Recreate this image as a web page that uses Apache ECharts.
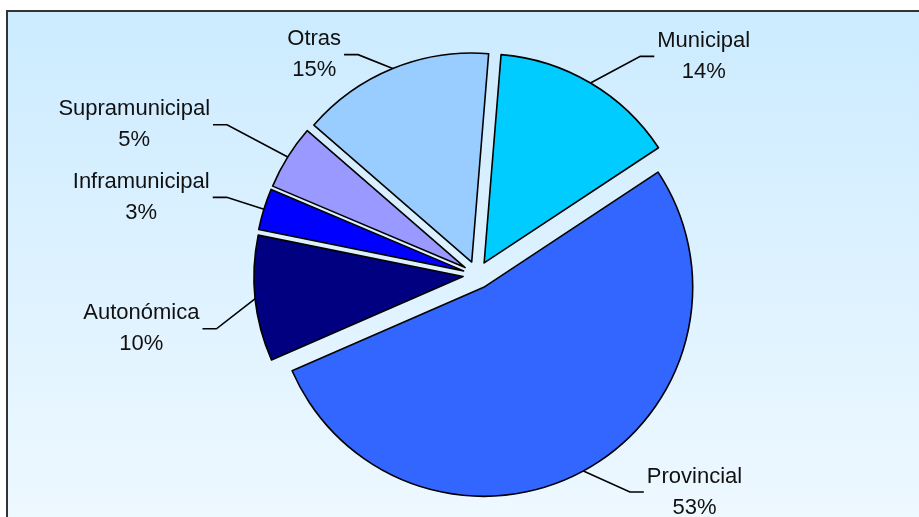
<!DOCTYPE html>
<html>
<head>
<meta charset="utf-8">
<script src="https://cdn.jsdelivr.net/npm/echarts@6/dist/echarts.min.js"></script>
<style>
html,body{margin:0;padding:0;background:#fff;}
#main{width:919px;height:517px;}
</style>
</head>
<body>
<div id="main"></div>
<script>
// Data (shares in %)
const categories = ['Municipal', 'Provincial', 'Autonómica', 'Inframunicipal', 'Supramunicipal', 'Otras'];
const values = [14.4, 52.7, 9.7, 3.2, 5.0, 14.9];
const colors = ['#00CCFF', '#3366FF', '#000080', '#0000FF', '#9999FF', '#99CCFF'];

// label-line styling per slice (lengths only, no coordinates)
const lineLen = [31, 24, 40, 40, 61, 15];
const lineLen2 = [48, 49, 13, 13, 23, 43];
// extra vertical nudge of a label (px), style only
const labelNudgeY = [0, 0, 26, 0, 0, 0];
const tailLen = 14;

const chart = echarts.init(document.getElementById('main'), null, {renderer: 'canvas'});

const data = categories.map((name, i) => ({
  name: name,
  value: values[i],
  selected: true,
  itemStyle: {color: colors[i]},
  labelLine: {length: lineLen[i], length2: lineLen2[i]}
}));

chart.setOption({
  animation: false,
  backgroundColor: '#ffffff',
  graphic: [{
    type: 'rect',
    z: -10,
    silent: true,
    shape: {x: 7, y: 11, width: 940, height: 540},
    style: {
      fill: new echarts.graphic.LinearGradient(0, 0, 0, 1, [
        {offset: 0, color: '#CCEBFF'},
        {offset: 1, color: '#F0F9FF'}
      ]),
      stroke: '#333333',
      lineWidth: 2
    }
  }],
  series: [{
    type: 'pie',
    left: 0,
    top: 0,
    width: 919,
    height: 580,
    center: [477, 275],
    radius: [0, 209],
    startAngle: 85.35,
    clockwise: true,
    selectedMode: 'multiple',
    selectedOffset: 14,
    avoidLabelOverlap: true,
    emphasis: {disabled: true},
    itemStyle: {borderColor: '#000000', borderWidth: 1.6},
    label: {
      show: true,
      position: 'outside',
      distanceToLabelLine: 3,
      color: '#111111',
      fontFamily: 'Liberation Sans, Arial, sans-serif',
      fontSize: 22,
      lineHeight: 31,
      formatter: function (p) {
        return '{n|' + p.name + '}\n{n|' + Math.round(p.percent) + '%}';
      },
      rich: {
        n: {
          align: 'center',
          fontFamily: 'Liberation Sans, Arial, sans-serif',
          fontSize: 22,
          lineHeight: 31,
          color: '#111111'
        }
      }
    },
    labelLine: {
      show: true,
      lineStyle: {color: '#000000', width: 1.6}
    },
    labelLayout: function (params) {
      const pts = params.labelLinePoints;
      if (!pts || pts.length < 3) return {};
      const p1 = pts[0];
      const p3 = pts[2];
      const nudge = labelNudgeY[params.dataIndex] || 0;
      const sgn = p3[0] >= p1[0] ? 1 : -1;
      const end = [p3[0], p3[1] + nudge];
      const mid = [end[0] - sgn * tailLen, end[1]];
      const out = {labelLinePoints: [p1, mid, end]};
      if (nudge) {
        out.dy = nudge;
      }
      return out;
    },
    data: data
  }]
});
</script>
</body>
</html>
